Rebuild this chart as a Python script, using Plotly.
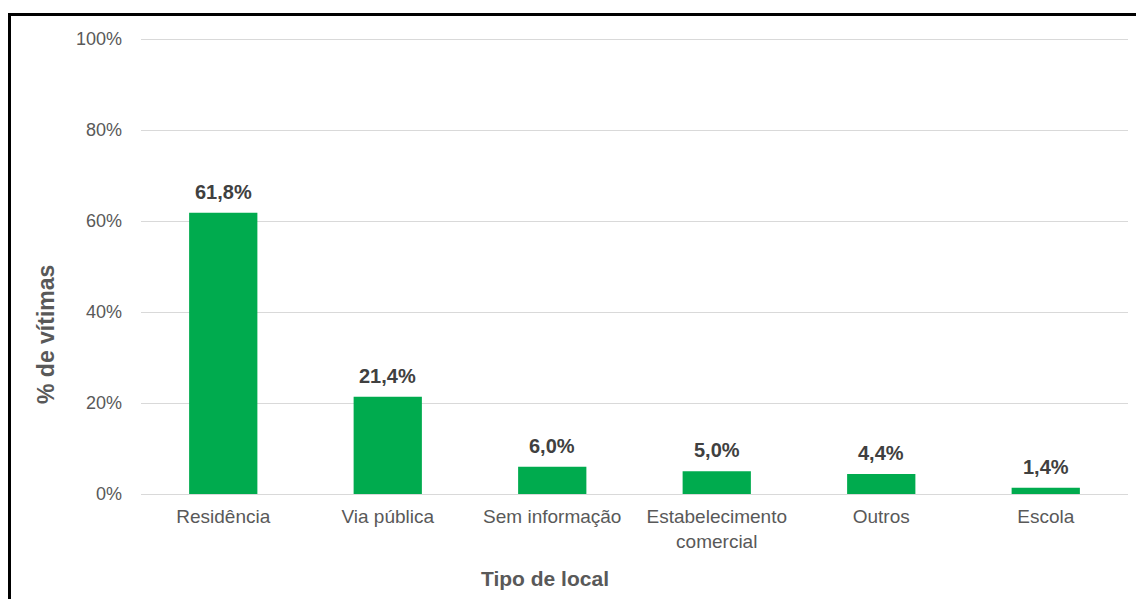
import plotly.graph_objects as go

categories = ["Residência", "Via pública", "Sem informação", "Estabelecimento<br>comercial", "Outros", "Escola"]
values = [61.8, 21.4, 6.0, 5.0, 4.4, 1.4]
labels = ["61,8%", "21,4%", "6,0%", "5,0%", "4,4%", "1,4%"]
y_ticks = [0, 20, 40, 60, 80, 100]
y_ticktext = ["0%", "20%", "40%", "60%", "80%", "100%"]

W, H = 1136, 599
L, R, T, B = 141, 8, 30, 105
pw, ph = W - L - R, H - T - B

def px_x(x):
    return (x - L) / pw

def px_y(y):
    return (H - B - y) / ph

fig = go.Figure()
fig.add_trace(go.Bar(
    x=categories, y=values,
    marker=dict(color="#00AB4E", line=dict(width=0)),
    cliponaxis=False,
))

annotations = [
    dict(text=t, x=c, y=v, xref="x", yref="y", showarrow=False,
         yanchor="middle", yshift=21,
         font=dict(family="Liberation Sans, Arial", size=20, color="#404040", weight="bold"))
    for c, v, t in zip(categories, values, labels)
]
annotations += [
    dict(text="% de vítimas", textangle=-90, x=px_x(46), y=px_y(335),
         xref="paper", yref="paper", showarrow=False,
         xanchor="center", yanchor="middle",
         font=dict(size=23, color="#595959", weight="bold")),
    dict(text="Tipo de local", x=px_x(545), y=px_y(578),
         xref="paper", yref="paper", showarrow=False,
         xanchor="center", yanchor="middle",
         font=dict(size=21, color="#595959", weight="bold")),
]

fig.update_layout(
    width=W, height=H,
    margin=dict(l=L, r=R, t=T, b=B),
    paper_bgcolor="white", plot_bgcolor="white",
    bargap=0.585,
    showlegend=False,
    font=dict(family="Liberation Sans, Arial", size=18, color="#595959"),
    xaxis=dict(showgrid=False, showline=False, ticks="", ticklabelstandoff=9,
               tickfont=dict(size=19, color="#595959")),
    yaxis=dict(range=[0, 102], tickvals=y_ticks, ticktext=y_ticktext,
               showgrid=True, gridcolor="#D9D9D9", gridwidth=1,
               zeroline=True, zerolinecolor="#D9D9D9", zerolinewidth=1,
               showline=False, ticks="", ticklabelstandoff=18,
               tickfont=dict(size=18, color="#595959")),
    annotations=annotations,
    shapes=[
        dict(type="rect", xref="paper", yref="paper",
             x0=px_x(9.5), y0=px_y(610), x1=px_x(1150), y1=px_y(14.5),
             line=dict(color="black", width=3), fillcolor="rgba(0,0,0,0)", layer="above"),
    ],
)

fig.write_html("out.html")
